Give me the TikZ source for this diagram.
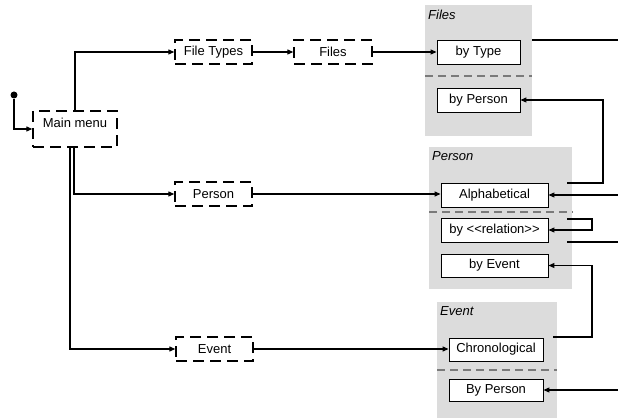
\documentclass[tikz,border=0pt]{standalone}
\usepackage{fontspec}
\setmainfont{Liberation Sans}
\usetikzlibrary{arrows.meta}
\definecolor{panelgray}{HTML}{DCDCDC}
\definecolor{sepgray}{HTML}{7A7A7A}
\begin{document}
\begin{tikzpicture}[x=1pt,y=-1pt,
  font=\fontsize{13}{15}\selectfont,
  dbox/.style={draw, dash pattern=on 11pt off 6pt, line width=1.4pt, minimum height=24pt, inner sep=0pt},
  wbox/.style={draw, fill=white, line width=0.9pt, minimum height=24pt, inner sep=0pt},
  panel/.style={fill=panelgray, draw=none, inner sep=0pt, anchor=north west},
  plabel/.style={anchor=north west, inner sep=0pt, font=\fontsize{13}{15}\selectfont\itshape},
  sepline/.style={draw=sepgray, dash pattern=on 8pt off 5pt, line width=1.1pt},
  conn/.style={line width=1.2pt},
  arr/.style={conn, -{Triangle[length=6pt,width=5pt]}},
  dot/.style={circle, fill, inner sep=0pt, minimum size=7pt}]
\useasboundingbox (0,0) rectangle (618,419);
% panels
\node[panel, minimum width=107pt, minimum height=131pt] (pfiles) at (425,5) {};
\node[panel, minimum width=143pt, minimum height=142pt] (pperson) at (429,147) {};
\node[panel, minimum width=120pt, minimum height=116pt] (pevent) at (437,302) {};
\node[plabel] (lfiles) at (428,10) {Files};
\node[plabel] (lperson) at (432,151) {Person};
\node[plabel] (levent) at (440,306) {Event};
\draw[sepline] (pfiles.west |- 0,76) -- (pfiles.east |- 0,76);
\draw[sepline] (pperson.west |- 0,212) -- (pperson.east |- 0,212);
\draw[sepline] (pevent.west |- 0,370) -- (pevent.east |- 0,370);
% left side
\node[dot] (start) at (14,95) {};
\node[dbox, minimum width=84pt, minimum height=36pt] (main) at (75,129) {\raisebox{12pt}{Main menu}};
\node[dbox, minimum width=77pt] (ft) at (213.5,52) {File Types};
\node[dbox, minimum width=78pt] (files) at (333,52) {Files};
\node[dbox, minimum width=77pt] (person) at (213.5,194) {Person};
\node[dbox, minimum width=77pt] (event) at (214.5,349) {Event};
% right boxes
\node[wbox, minimum width=83pt] (fbytype) at (478.5,52) {by Type};
\node[wbox, minimum width=83pt] (fbyperson) at (478.5,100) {by Person};
\node[wbox, minimum width=107pt] (palpha) at (494.5,195) {Alphabetical};
\node[wbox, minimum width=107pt] (prel) at (494.5,230) {by <\kern0pt<relation>\kern0pt>};
\node[wbox, minimum width=107pt, minimum height=23pt] (pevby) at (494.5,265.5) {by Event};
\node[wbox, minimum width=94pt, minimum height=23pt] (echrono) at (496,349.5) {Chronological};
\node[wbox, minimum width=94pt, minimum height=22pt] (ebyperson) at (496,390) {By Person};
% connectors left
\draw[arr] (start) |- (main.west);
\draw[arr] (main.north) |- (ft.west);
\draw[arr] (ft.east) -- (files.west);
\draw[arr] (files.east) -- (fbytype.west);
\draw[arr] ([xshift=-1pt]main.south) |- (person.west);
\draw[arr] ([xshift=-5pt]main.south) |- (event.west);
\draw[arr] (person.east) -- (person.east -| palpha.west);
\draw[arr] (event.east) -- (event.east -| echrono.west);
% connectors right
\coordinate (r1) at (618,40);
\coordinate (r2) at (618,195);
\coordinate (r3) at (618,242);
\coordinate (r4) at (618,390);
\coordinate (k1) at (603,183);
\coordinate (k2) at (592,219);
\coordinate (k3) at (592,337);
\draw[conn] (pfiles.east |- r1) -- (r1);
\draw[arr] ([xshift=-5pt]pperson.east |- k1) -- (k1) |- (fbyperson.east);
\draw[arr] (r2) -- (palpha.east);
\draw[arr] ([xshift=-5pt]pperson.east |- k2) -- (k2) |- (prel.east);
\draw[conn] ([xshift=-5pt]pperson.east |- r3) -- (r3);
\draw[arr] ([xshift=-4pt]pevent.east |- k3) -- (k3) |- (pevby.east);
\draw[arr] (r4) -- (ebyperson.east);
\end{tikzpicture}
\end{document}
